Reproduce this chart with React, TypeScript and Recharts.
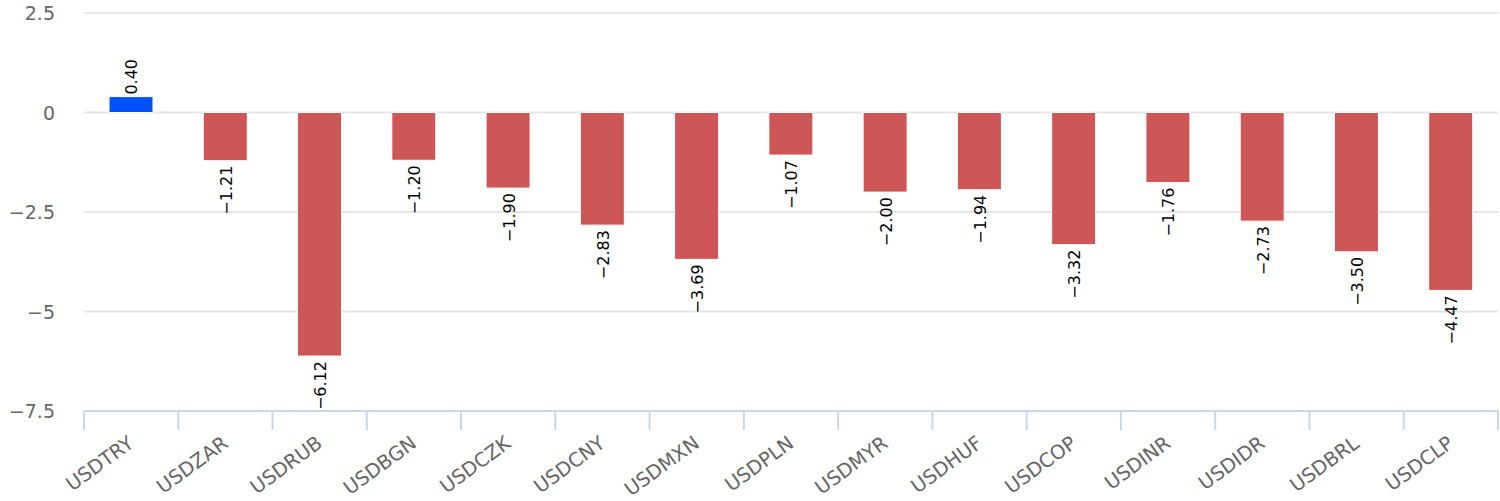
import { BarChart, Bar, XAxis, YAxis, CartesianGrid, Cell, LabelList } from "recharts"

const pairs = ["USDTRY", "USDZAR", "USDRUB", "USDBGN", "USDCZK", "USDCNY", "USDMXN", "USDPLN", "USDMYR", "USDHUF", "USDCOP", "USDINR", "USDIDR", "USDBRL", "USDCLP"]
const changes = [0.4, -1.21, -6.12, -1.2, -1.9, -2.83, -3.69, -1.07, -2.0, -1.94, -3.32, -1.76, -2.73, -3.5, -4.47]
const yTicks = [2.5, 0, -2.5, -5, -7.5]

const data = pairs.map((pair, i) => ({ pair, change: changes[i] }))

const WIDTH = 1500
const HEIGHT = 501
const LEFT = 84
const RIGHT = 2
const BAND = (WIDTH - LEFT - RIGHT) / pairs.length
const FONT = "'DejaVu Sans', Verdana, sans-serif"

const fmt = (v: number) => (v === 0 ? "0" : String(v).replace("-", "\u2212"))

const YTick = (props: any) => {
  const { y, payload } = props
  return (
    <text x={55} y={y} textAnchor="end" dominantBaseline="central" fill="#666666" fontSize={19} fontFamily={FONT}>
      {fmt(payload.value)}
    </text>
  )
}

const XTick = (props: any) => {
  const { x, y, payload, index } = props
  const lx = x - BAND / 2
  const tx = x + 4
  const ty = y + 35
  return (
    <g>
      <line x1={lx} x2={lx} y1={y} y2={y + 19} stroke="#ccd6eb" strokeWidth={2} />
      {index === pairs.length - 1 && (
        <line x1={x + BAND / 2} x2={x + BAND / 2} y1={y} y2={y + 19} stroke="#ccd6eb" strokeWidth={2} />
      )}
      <text
        x={tx}
        y={ty}
        textAnchor="end"
        transform={`rotate(-36 ${tx} ${ty})`}
        fill="#666666"
        fontSize={19.5}
        fontFamily={FONT}
      >
        {payload.value}
      </text>
    </g>
  )
}

const BarLabel = (props: any) => {
  const { x, y, width, height, value } = props
  const cx = x + width / 2 + 1
  const top = Math.min(y, y + height)
  const bottom = Math.max(y, y + height)
  const label = value.toFixed(2).replace("-", "\u2212")
  const py = value >= 0 ? top - 2 : bottom + 5
  return (
    <text
      x={cx}
      y={py}
      textAnchor={value >= 0 ? "start" : "end"}
      dominantBaseline="central"
      transform={`rotate(-90 ${cx} ${py})`}
      fill="#000000"
      fontSize={16}
      fontFamily={FONT}
    >
      {label}
    </text>
  )
}

export default function App() {
  return (
    <div style={{ position: "absolute", left: 0, top: 0, background: "#ffffff" }}>
      <BarChart
        width={WIDTH}
        height={HEIGHT}
        data={data}
        margin={{ top: 13, right: RIGHT, left: 0, bottom: 0 }}
        barCategoryGap={0}
      >
        <CartesianGrid vertical={false} stroke="#e6e6e6" strokeWidth={2} />
        <XAxis
          dataKey="pair"
          height={90}
          interval={0}
          tickLine={false}
          tickSize={0}
          tickMargin={0}
          axisLine={{ stroke: "#ccd6eb", strokeWidth: 2 }}
          tick={<XTick />}
        />
        <YAxis
          width={LEFT}
          domain={[-7.5, 2.5]}
          ticks={yTicks}
          axisLine={false}
          tickLine={false}
          tick={<YTick />}
        />
        <Bar dataKey="change" barSize={44} stroke="#ffffff" strokeWidth={1} isAnimationActive={false}>
          {data.map((d) => (
            <Cell key={d.pair} fill={d.change >= 0 ? "#0052ff" : "#cd5757"} />
          ))}
          <LabelList dataKey="change" content={<BarLabel />} />
        </Bar>
      </BarChart>
    </div>
  )
}
